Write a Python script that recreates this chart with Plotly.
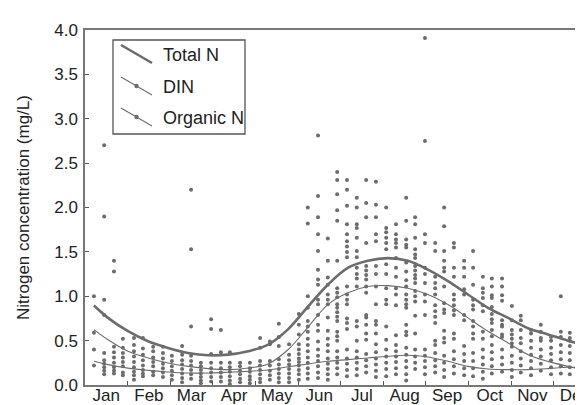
import plotly.graph_objects as go

# ---------------- data ----------------
months = ["Jan", "Feb", "Mar", "Apr", "May", "Jun", "Jul", "Aug", "Sep", "Oct", "Nov", "Dec"]
month_centers = [0.5, 1.5, 2.5, 3.5, 4.5, 5.5, 6.5, 7.5, 8.5, 9.5, 10.5, 11.5]
month_edges = [1, 2, 3, 4, 5, 6, 7, 8, 9, 10, 11]
y_ticks = [0.0, 0.5, 1.0, 1.5, 2.0, 2.5, 3.0, 3.5, 4.0]

# sampling dates (in months from 1 Jan) and the observed concentrations at each
sample_month = [0.21, 0.45, 0.68, 0.89, 1.15, 1.36, 1.60, 1.83, 2.04, 2.28,
                2.49, 2.72, 2.96, 3.19, 3.40, 3.64, 3.87, 4.11, 4.34, 4.55,
                4.79, 5.02, 5.23, 5.47, 5.70, 5.92, 6.15, 6.38, 6.60, 6.83,
                7.07, 7.30, 7.54, 7.75, 7.98, 8.22, 8.43, 8.66, 8.90, 9.11,
                9.34, 9.55, 9.79, 10.02, 10.23, 10.47, 10.70, 10.94, 11.17, 11.38,
                11.62, 11.85]
sample_values = [
    [1.00, 0.59, 0.40, 0.22],
    [2.70, 1.90, 0.96, 0.79, 0.36, 0.28, 0.24, 0.20, 0.16, 0.12],
    [1.40, 1.28, 0.43, 0.37, 0.31, 0.25, 0.20, 0.16, 0.13],
    [0.52, 0.42, 0.36, 0.31, 0.26, 0.21, 0.14, 0.11],
    [0.53, 0.45, 0.38, 0.32, 0.26, 0.20, 0.15, 0.11, 0.06],
    [0.53, 0.41, 0.34, 0.28, 0.22, 0.17, 0.13, 0.10],
    [0.43, 0.38, 0.31, 0.26, 0.21, 0.15, 0.11],
    [0.43, 0.36, 0.30, 0.24, 0.19, 0.14, 0.09],
    [0.33, 0.27, 0.21, 0.16, 0.11, 0.06],
    [0.44, 0.34, 0.28, 0.23, 0.18, 0.13, 0.08, 0.03],
    [2.20, 1.53, 0.66, 0.33, 0.27, 0.22, 0.17, 0.12, 0.07],
    [0.25, 0.21, 0.17, 0.13, 0.09, 0.05, 0.02],
    [0.74, 0.63, 0.35, 0.25, 0.19, 0.14, 0.09, 0.04],
    [0.62, 0.37, 0.25, 0.19, 0.14, 0.09, 0.04],
    [0.37, 0.25, 0.20, 0.15, 0.10, 0.05, 0.01],
    [0.25, 0.21, 0.16, 0.12, 0.07, 0.03],
    [0.25, 0.19, 0.15, 0.10, 0.06, 0.02],
    [0.53, 0.42, 0.27, 0.22, 0.17, 0.12, 0.07, 0.03],
    [0.49, 0.46, 0.27, 0.22, 0.16, 0.11, 0.06],
    [0.69, 0.54, 0.44, 0.29, 0.23, 0.18, 0.13, 0.08, 0.03],
    [0.46, 0.34, 0.28, 0.23, 0.18, 0.13, 0.08, 0.03],
    [0.80, 0.68, 0.57, 0.46, 0.40, 0.35, 0.30, 0.26, 0.22, 0.17, 0.12, 0.06],
    [2.00, 1.82, 1.00, 0.87, 0.72, 0.66, 0.60, 0.52, 0.45, 0.38, 0.31, 0.25, 0.19, 0.13, 0.07],
    [2.81, 2.13, 1.89, 1.70, 1.51, 1.30, 1.19, 1.13, 0.96, 0.91, 0.79, 0.68, 0.61, 0.49, 0.40,
     0.33, 0.27, 0.21, 0.14, 0.08],
    [1.65, 1.40, 1.21, 1.13, 1.02, 0.96, 0.91, 0.76, 0.61, 0.52, 0.45, 0.38, 0.30, 0.24, 0.18,
     0.12, 0.06],
    [2.40, 2.31, 2.15, 1.97, 1.85, 1.40, 1.09, 1.04, 0.99, 0.91, 0.87, 0.82, 0.77, 0.72, 0.60,
     0.55, 0.50, 0.38, 0.31, 0.25, 0.19, 0.12],
    [2.31, 2.20, 2.02, 1.81, 1.70, 1.62, 1.56, 1.50, 1.44, 1.11, 1.02, 0.96, 0.91, 0.75, 0.70,
     0.63, 0.40, 0.30, 0.24, 0.17, 0.10],
    [2.11, 2.00, 1.81, 1.77, 1.66, 1.51, 1.44, 1.32, 1.25, 1.20, 1.11, 0.72, 0.66, 0.50, 0.38,
     0.31, 0.25, 0.18, 0.11],
    [2.31, 2.05, 1.89, 1.60, 1.34, 1.29, 1.24, 1.19, 1.11, 1.04, 0.79, 0.76, 0.68, 0.58, 0.51,
     0.35, 0.28, 0.21, 0.14],
    [2.29, 2.03, 1.89, 1.70, 1.62, 1.34, 1.25, 1.11, 0.91, 0.72, 0.68, 0.58, 0.46, 0.37, 0.30,
     0.23, 0.16, 0.09],
    [2.00, 1.77, 1.72, 1.66, 1.60, 1.53, 1.36, 1.25, 1.09, 0.96, 0.91, 0.66, 0.51, 0.40, 0.32,
     0.25, 0.18, 0.10],
    [1.81, 1.70, 1.64, 1.60, 1.55, 1.43, 1.32, 1.22, 1.09, 1.02, 0.90, 0.56, 0.45, 0.38, 0.32,
     0.26, 0.19, 0.12],
    [2.11, 1.85, 1.64, 1.58, 1.55, 1.38, 1.28, 1.18, 1.11, 1.02, 0.96, 0.91, 0.87, 0.68, 0.60,
     0.56, 0.42, 0.34, 0.27, 0.20, 0.12, 0.05],
    [1.89, 1.81, 1.66, 1.53, 1.47, 1.43, 1.34, 1.29, 1.24, 1.20, 1.15, 1.06, 1.00, 0.94, 0.78,
     0.58, 0.40, 0.32, 0.25, 0.18],
    [3.91, 2.75, 1.70, 1.60, 1.32, 1.25, 1.15, 1.02, 0.94, 0.79, 0.40, 0.33, 0.27, 0.20, 0.12],
    [1.60, 1.51, 1.22, 1.15, 1.09, 1.02, 0.90, 0.83, 0.77, 0.70, 0.50, 0.45, 0.36, 0.28, 0.21, 0.14],
    [2.00, 1.79, 1.51, 1.40, 1.32, 1.28, 1.11, 0.92, 0.85, 0.81, 0.61, 0.53, 0.48, 0.33, 0.25,
     0.17, 0.09],
    [1.60, 1.55, 1.32, 1.22, 1.02, 0.96, 0.90, 0.84, 0.79, 0.58, 0.52, 0.38, 0.29, 0.21, 0.13],
    [1.40, 1.32, 1.22, 1.08, 1.02, 0.79, 0.73, 0.44, 0.35, 0.27, 0.19, 0.11],
    [1.51, 1.32, 1.13, 0.96, 0.90, 0.85, 0.72, 0.66, 0.58, 0.52, 0.36, 0.27, 0.19, 0.10],
    [1.22, 1.09, 1.04, 0.98, 0.90, 0.83, 0.60, 0.52, 0.40, 0.31, 0.23, 0.15, 0.07],
    [1.20, 1.11, 1.01, 0.98, 0.88, 0.80, 0.74, 0.70, 0.62, 0.55, 0.45, 0.37, 0.29, 0.21, 0.13],
    [1.20, 1.11, 1.01, 0.95, 0.73, 0.68, 0.66, 0.57, 0.54, 0.40, 0.31, 0.23, 0.15],
    [0.89, 0.73, 0.62, 0.57, 0.52, 0.47, 0.43, 0.33, 0.25, 0.17, 0.09],
    [0.78, 0.73, 0.62, 0.53, 0.47, 0.38, 0.30, 0.22, 0.14],
    [0.62, 0.58, 0.50, 0.42, 0.34, 0.27, 0.19, 0.11],
    [0.68, 0.60, 0.53, 0.50, 0.40, 0.32, 0.24, 0.16],
    [0.54, 0.50, 0.42, 0.35, 0.28, 0.20, 0.12],
    [1.00, 0.60, 0.54, 0.45, 0.37, 0.29, 0.21, 0.13],
    [0.59, 0.53, 0.50, 0.44, 0.36, 0.28, 0.20, 0.12],
    [1.70, 0.87, 0.83, 0.58, 0.50, 0.45, 0.36, 0.28, 0.20],
    [0.62, 0.47, 0.38, 0.30, 0.22, 0.15],
]

# fitted seasonal curves
curve_month = [0.21, 0.54, 1.01, 1.48, 1.95, 2.42, 2.89, 3.36, 3.83, 4.30, 4.77, 5.23, 5.70,
               6.17, 6.64, 7.11, 7.58, 8.05, 8.52, 8.99, 9.46, 9.93, 10.40, 10.87, 11.34, 11.88]
total_n = [0.895, 0.756, 0.606, 0.493, 0.418, 0.361, 0.335, 0.342, 0.380, 0.455, 0.63, 0.88,
           1.13, 1.32, 1.40, 1.43, 1.40, 1.30, 1.17, 1.02, 0.87, 0.756, 0.64, 0.57, 0.50, 0.43]
din = [0.624, 0.51, 0.38, 0.305, 0.248, 0.21, 0.184, 0.173, 0.192, 0.237, 0.40, 0.65, 0.906,
       1.04, 1.11, 1.12, 1.09, 1.02, 0.906, 0.756, 0.606, 0.474, 0.342, 0.266, 0.21, 0.15]
organic_n = [0.267, 0.23, 0.19, 0.165, 0.147, 0.135, 0.135, 0.143, 0.154, 0.169, 0.205, 0.237,
             0.267, 0.286, 0.305, 0.324, 0.335, 0.316, 0.267, 0.21, 0.18, 0.173, 0.173, 0.184,
             0.20, 0.19]

legend_labels = ["Total N", "DIN", "Organic N"]

# ---------------- figure ----------------
FONT = "Liberation Sans, Arial, Helvetica, sans-serif"
FS = 17
TXT = "#222222"
GRAY = "#6c6c6c"
W, H = 583, 405
ML, MR, MT, MB = 77, 0, 22, 28
PW, PH = W - ML - MR, H - MT - MB

xs, ys = [], []
for m, vals in zip(sample_month, sample_values):
    for v in vals:
        xs.append(m)
        ys.append(v)

fig = go.Figure()
fig.add_trace(go.Scatter(x=xs, y=ys, mode="markers",
                         marker=dict(size=4, color=GRAY, line=dict(width=0)),
                         showlegend=False, hoverinfo="skip"))
fig.add_trace(go.Scatter(x=curve_month, y=total_n, mode="lines", name=legend_labels[0],
                         line=dict(color=GRAY, width=2.6, shape="spline"), showlegend=False))
fig.add_trace(go.Scatter(x=curve_month, y=din, mode="lines", name=legend_labels[1],
                         line=dict(color=GRAY, width=1.1, shape="spline"), showlegend=False))
fig.add_trace(go.Scatter(x=curve_month, y=organic_n, mode="lines", name=legend_labels[2],
                         line=dict(color=GRAY, width=1.1, shape="spline"), showlegend=False))


def pp(px, py):
    return (px - ML) / PW, (H - MB - py) / PH


# custom legend box with diagonal line samples
shapes = []
x0, y0 = pp(105, 32)
x1, y1 = pp(237, 126)
shapes.append(dict(type="rect", xref="paper", yref="paper", x0=x0, y0=y1, x1=x1, y1=y0,
                   line=dict(color="#555555", width=1.3), fillcolor="white", layer="above"))
annotations = []
item_y = [47, 79, 110]
item_w = [2.6, 1.1, 1.1]
for i, lab in enumerate(legend_labels):
    cy = item_y[i]
    ax0, ay0 = pp(113, cy - 10)
    ax1, ay1 = pp(144, cy + 8)
    shapes.append(dict(type="line", xref="paper", yref="paper", x0=ax0, y0=ay0, x1=ax1, y1=ay1,
                       line=dict(color=GRAY, width=item_w[i]), layer="above"))
    if i > 0:
        cx, cyp = pp(128.5, cy - 1)
        rx, ry = 2.2 / PW, 2.2 / PH
        shapes.append(dict(type="circle", xref="paper", yref="paper",
                           x0=cx - rx, x1=cx + rx, y0=cyp - ry, y1=cyp + ry,
                           fillcolor=GRAY, line=dict(width=0), layer="above"))
    tx, ty = pp(153, cy)
    annotations.append(dict(xref="paper", yref="paper", x=tx, y=ty, text=lab, showarrow=False,
                            xanchor="left", yanchor="middle",
                            font=dict(family=FONT, size=FS + 1, color=TXT)))

fig.update_layout(
    width=W, height=H,
    margin=dict(l=ML, r=MR, t=MT, b=MB, pad=0),
    plot_bgcolor="white", paper_bgcolor="white",
    showlegend=False,
    font=dict(family=FONT, size=FS, color=TXT),
    shapes=shapes, annotations=annotations,
    xaxis=dict(range=[0, PW / 42.6], showgrid=False, zeroline=False, automargin=False,
               showline=True, linecolor="#777777", linewidth=1.5, mirror=True,
               tickmode="array", tickvals=month_centers, ticktext=months, ticks="",
               ticklabeloverflow="allow", ticklabelstandoff=-6,
               tickfont=dict(family=FONT, size=FS, color=TXT),
               minor=dict(tickmode="array", tickvals=month_edges, ticks="inside",
                          ticklen=4, tickcolor="#555555", tickwidth=1, showgrid=False)),
    yaxis=dict(range=[0, 4.0], showgrid=False, zeroline=False, automargin=False,
               showline=True, linecolor="#777777", linewidth=1.5,
               tickmode="array", tickvals=y_ticks, tickformat=".1f",
               ticks="inside", ticklen=4, tickcolor="#555555", ticklabelstandoff=2,
               tickfont=dict(family=FONT, size=FS, color=TXT),
               title=dict(text="Nitrogen concentration (mg/L)", standoff=20,
                          font=dict(family=FONT, size=FS, color=TXT))),
)

fig.write_html("out.html")
